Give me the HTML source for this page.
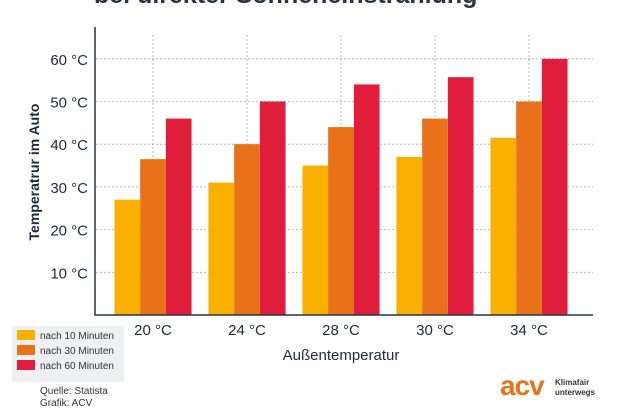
<!DOCTYPE html>
<html><head><meta charset="utf-8"><style>
body{margin:0;width:630px;height:412px;background:#fff;overflow:hidden;position:relative;font-family:"Liberation Sans",sans-serif;color:#1f2a36}
.t{position:absolute}
</style></head><body>
<div class="t" style="left:94px;top:-19px;font-size:25px;font-weight:bold;color:#253447;white-space:nowrap">bei direkter Sonneneinstrahlung</div>
<svg id="c" width="630" height="412" style="position:absolute;left:0;top:0">
<rect x="12" y="326" width="112" height="56" fill="#eef0f2"/>
</svg>
<div class="t" style="left:40px;top:386px;font-size:10px;line-height:12px;color:#333">Quelle: Statista<br>Grafik: ACV</div>
<div class="t" style="left:500px;top:370px;font-size:28px;font-weight:bold;color:#e8731a;letter-spacing:-1px">acv</div>
<div class="t" style="left:555px;top:378px;font-size:8px;font-weight:bold;line-height:10px;color:#333">Klimafair<br>unterwegs</div>
<script>
const categories=["20 °C","24 °C","28 °C","30 °C","34 °C"];
const s10=[27,31,35,37,41.5];
const s30=[36.5,40,44,46,50];
const s60=[46,50,54,55.7,60];
const ticks=[10,20,30,40,50,60];
const seriesNames=["nach 10 Minuten","nach 30 Minuten","nach 60 Minuten"];
const colors=["#f9b000","#e8711a","#e01e3c"];
const svg=document.getElementById('c');const NS="http://www.w3.org/2000/svg";
function mk(t,a,txt){const e=document.createElementNS(NS,t);for(const k in a)e.setAttribute(k,a[k]);if(txt!=null)e.textContent=txt;svg.appendChild(e);return e;}
const y=v=>315-v*4.27;const gx=i=>153+i*94;const bw=25.7;
ticks.forEach(t=>{const l=mk('line',{x1:96,x2:593,y1:y(t),y2:y(t),stroke:'#aaa','stroke-dasharray':'2,2','stroke-width':0.8});

const tx=mk('text',{x:88,y:y(t)+6,'text-anchor':'end','font-size':15,fill:'#1f2a36'},t+' °C');
});
categories.forEach((c,i)=>{const l=mk('line',{x1:gx(i),x2:gx(i),y1:35,y2:315,stroke:'#aaa','stroke-dasharray':'2,2','stroke-width':0.8});
});
[s10,s30,s60].forEach((s,k)=>s.forEach((v,i)=>{const r=mk('rect',{x:gx(i)-1.5*bw+k*bw,y:y(v),width:bw,height:315-y(v),fill:colors[k]});
}));
const ax=mk('path',{d:'M95,27 V315 H593',fill:'none',stroke:'#253447','stroke-width':1.5});

categories.forEach((c,i)=>{const t=mk('text',{x:gx(i),y:335,'text-anchor':'middle','font-size':15,fill:'#1f2a36'},c);
});
const xt=mk('text',{x:341,y:360,'text-anchor':'middle','font-size':15,fill:'#1f2a36'},'Außentemperatur');

const yt=mk('text',{x:0,y:0,'text-anchor':'middle','font-size':14,'font-weight':'bold',fill:'#1f2a36',transform:'translate(39,172) rotate(-90)'},'Temperatrur im Auto');

seriesNames.forEach((n,k)=>{const r=mk('rect',{x:17,y:330+k*15,width:18,height:10,fill:colors[k]});

const t=mk('text',{x:40,y:339+k*15,'font-size':10,fill:'#333'},n);
});
</script>
</body></html>
